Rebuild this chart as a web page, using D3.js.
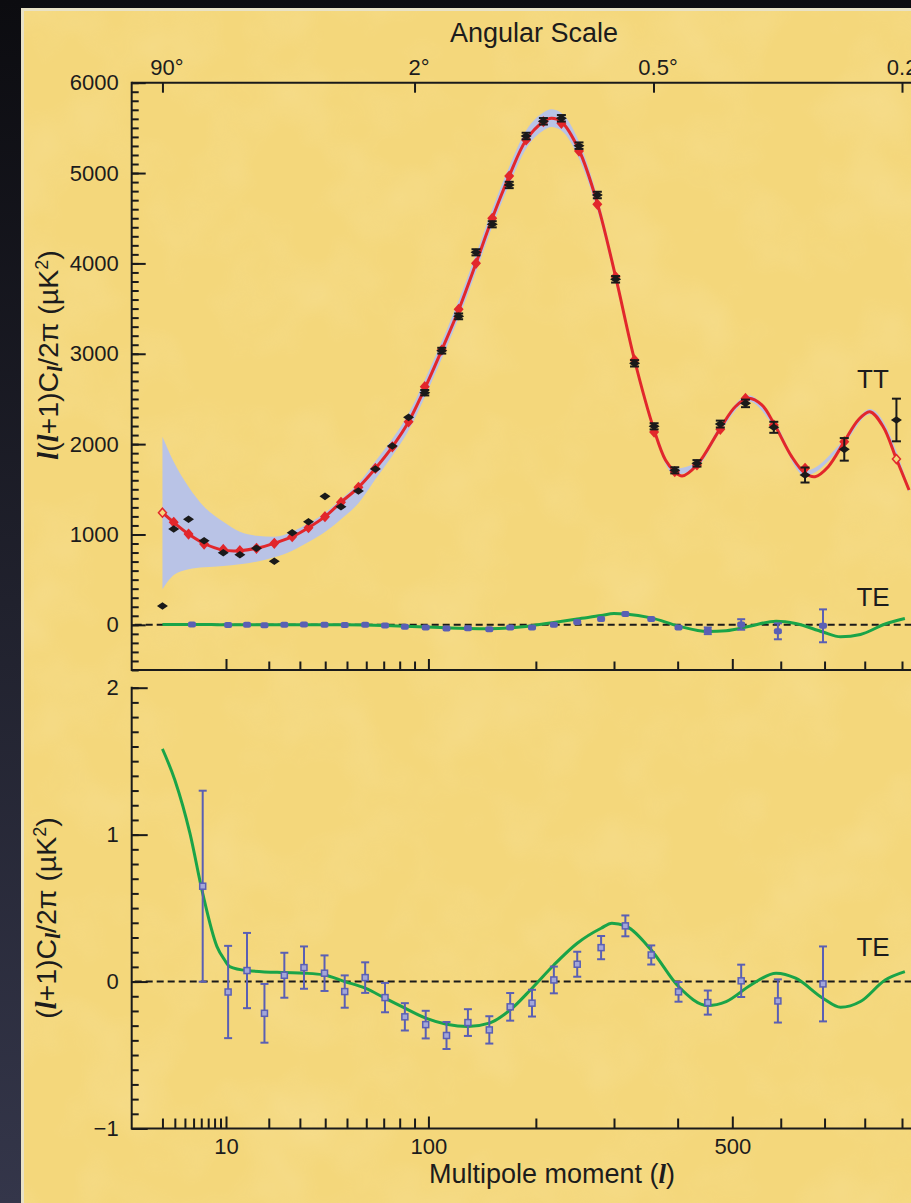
<!DOCTYPE html>
<html>
<head>
<meta charset="utf-8">
<script src="https://cdn.jsdelivr.net/npm/d3@7/dist/d3.min.js"></script>
<style>
  body { margin: 0; background: #15151b; overflow: hidden; }
  svg { display: block; }
  text { font-family: "Liberation Sans", Arial, Helvetica, sans-serif; fill: #1c1c1c; }
</style>
</head>
<body>
<script>
// ---- data ----

// TT: binned multipoles, measured band power, error (uK^2)
var ttL   = [2, 2.9, 4.4, 6.4, 9.5, 12.8, 16.7, 21.6, 27.3, 33.2, 39.9, 47.1, 55.8, 65.1, 75.3, 85.9, 97.3,
             110.2, 124, 139.2, 154.4, 171.3, 189.2, 208.6, 230, 252.2, 276.6, 302.3, 330.4, 361, 395.1,
             433.8, 476.9, 526.2, 585, 654.3, 748.1, 884.6];
var ttVal = [208, 1060, 1168, 931, 798, 776, 847, 703, 1019, 1141, 1422, 1307, 1481, 1724, 1979, 2296, 2569,
             3034, 3414, 4123, 4433, 4868, 5410, 5573, 5606, 5303, 4757, 3824, 2894, 2197, 1710,
             1787, 2222, 2451, 2186, 1658, 1942, 2267];
var ttErr = [0, 0, 0, 0, 0, 0, 0, 0, 0, 0, 0, 0, 0, 0, 0, 0, 30,
             32, 32, 34, 34, 35, 36, 36, 36, 36, 36, 36, 35, 34, 34,
             36, 38, 42, 61, 83, 125, 236];
// model value at the same bins (red diamonds)
var ttBin = [1241, 1134, 1005, 894, 835, 820, 847, 902, 975, 1075, 1197, 1356, 1522, 1731, 1970, 2247, 2635,
             3041, 3492, 4001, 4499, 4967, 5366, 5568, 5550, 5244, 4654, 3853, 2931, 2134, 1695,
             1769, 2164, 2505, 2211, 1732, 2027, 1835];

// TT best fit curve
var fitL  = [2, 2.9, 4.4, 6.4, 9.5, 12.8, 16.7, 21.6, 27.3, 33.2, 39.9, 47.1, 55.8, 65.1, 75.3, 85.9, 97.3,
             110.2, 124, 139.2, 154.4, 171.3, 189.2, 208.6, 218, 230, 252.2, 276.6, 302.3, 330.4, 361,
             379.5, 395.1, 407.6, 433.8, 476.9, 505.8, 532.3, 559.6, 585, 624.2, 654.3, 677.5, 708.9,
             748.1, 783.3, 813.3, 848.6, 884.6, 919.7];
var fitTT = [1241, 1134, 1005, 900, 827, 820, 847, 902, 975, 1075, 1197, 1356, 1522, 1731, 1970, 2247, 2616,
             3041, 3484, 4001, 4499, 4967, 5366, 5568, 5606, 5568, 5255, 4665, 3853, 2931, 2156,
             1824, 1695, 1647, 1769, 2175, 2414, 2507, 2433, 2230, 1861, 1677, 1639, 1750,
             2027, 2267, 2359, 2193, 1835, 1492];

// cosmic variance band round the fit
var bandL  = [2, 2.9, 4.4, 6.4, 9.5, 12.8, 16.7, 21.6, 27.3, 33.2, 39.9, 47.1, 55.8, 65.1, 75.3, 85.9, 97.3,
              110.2, 124, 139.2, 154.4, 171.3, 189.2, 208.6, 218, 230, 252.2, 276.6, 302.3, 330.4, 361,
              395.1, 433.8, 476.9, 532.3, 585, 654.3, 748.1, 813.3, 919.7];
var bandLo = [393, 551, 614, 636, 651, 670, 699, 747, 820, 916, 1027, 1168, 1345, 1610, 1870, 2150, 2520,
              2945, 3395, 3905, 4405, 4870, 5270, 5470, 5510, 5470, 5160, 4590, 3800, 2890, 2120,
              1660, 1740, 2140, 2475, 2200, 1650, 2000, 2330, 1465];
var bandHi = [2082, 1805, 1529, 1307, 1141, 1030, 986, 975, 1030, 1123, 1241, 1389, 1566, 1810, 2060, 2340, 2710,
              3135, 3590, 4100, 4600, 5070, 5470, 5670, 5705, 5665, 5350, 4740, 3910, 2975, 2195,
              1730, 1800, 2210, 2540, 2260, 1705, 2055, 2390, 1520];

// TE in the upper panel, l(l+1)C/2pi
var teTopL   = [4.8, 10.4, 14.4, 18.8, 24.7, 31.5, 39.7, 48.9, 59.4, 70.8, 83.4, 98, 114, 132, 151.6, 172.3,
                195.7, 220.9, 249.9, 281.8, 316.6, 356.4, 401.5, 453.5, 517.5, 593.8, 696.3];
var teTopVal = [3, -1, 1, -4, 1, 3, 2, -3, 2, -8, -20, -29, -42, -37, -50, -30, -29, 2, 30, 65, 120, 65,
                -30, -66, 4, -72, -11];
var teTopErr = [3, 3, 4, 4, 4, 5, 5, 5, 6, 7, 8, 9, 11, 12, 14, 16, 18, 20, 21, 22, 23, 23, 27, 37, 58, 88, 182];
var teTopFitL = [2, 3, 6.2, 8.4, 10.7, 14.4, 24.7, 31.5, 39.7, 48.9, 59.4, 70.8, 83.4, 98, 114, 132, 151.6,
                 172.3, 195.7, 220.9, 249.9, 281.8, 300, 316.6, 356.4, 401.5, 453.5, 488, 537, 590, 633,
                 696, 739, 789, 854, 908];
var teTopFit  = [3, 4, 4, 2, 1, 1, 1.5, 1.8, 1.8, 0, -3, -8, -15, -24, -33, -40, -43,
                 -33, -9, 25, 65, 102, 125, 120, 77, -14, -74, -66, -12, 40, 15,
                 -79, -133, -107, 9, 70];

// TE in the lower panel, (l+1)C/2pi
var teL   = [6.2, 10.4, 14.4, 18.8, 24.7, 31.5, 39.7, 48.9, 59.4, 70.8, 83.4, 98, 114, 132, 151.6, 172.3,
             195.7, 220.9, 249.9, 281.8, 316.6, 356.4, 401.5, 453.5, 517.5, 593.8, 696.3];
var teVal = [0.649, -0.071, 0.075, -0.216, 0.043, 0.095, 0.057, -0.068, 0.027, -0.109, -0.240, -0.293,
             -0.367, -0.279, -0.329, -0.172, -0.147, 0.011, 0.118, 0.231, 0.379, 0.181, -0.070, -0.143,
             0.005, -0.132, -0.016];
var teErr = [0.65, 0.314, 0.256, 0.2, 0.153, 0.144, 0.121, 0.11, 0.104, 0.1, 0.093, 0.094, 0.092, 0.091,
             0.093, 0.094, 0.091, 0.091, 0.085, 0.079, 0.071, 0.065, 0.067, 0.082, 0.11, 0.147, 0.255];
var teFitL = [2, 3, 4.56, 6.2, 8.4, 9.74, 10.7, 14.4, 24.7, 31.5, 39.7, 48.9, 59.4, 70.8, 83.4, 98, 114,
              132, 151.6, 172.3, 195.7, 220.9, 249.9, 281.8, 297, 316.6, 356.4, 401.5, 453.5, 488, 537,
              590, 633, 696, 739, 789, 854, 908];
var teFit  = [1.583, 1.372, 1.01, 0.60, 0.238, 0.147, 0.102, 0.075, 0.061, 0.057, 0.045, 0.0, -0.045,
              -0.113, -0.181, -0.249, -0.29, -0.306, -0.283, -0.193, -0.045, 0.113, 0.261, 0.363, 0.397,
              0.379, 0.215, -0.034, -0.163, -0.136, -0.023, 0.057, 0.023, -0.113, -0.175, -0.136, 0.011, 0.068];

// axis ticks
var ttMinor = d3.range(-500, 6001, 100);
var ttMajor = [0, 1000, 2000, 3000, 4000, 5000, 6000];
var teMinor = d3.range(-10, 21, 1).map(function(d) { return d / 10; });
var teMajor = [-1, 0, 1, 2];
var lLow    = [2, 3, 4, 5, 6, 7, 8, 9];
var lMinor  = [20, 30, 40, 50, 60, 70, 80, 90, 200, 300, 400, 600, 700, 800, 900];
var lMajor  = [10, 100, 500];
var angL      = [2, 90, 360, 900];
var angLabels = ["90°", "2°", "0.5°", "0.2°"];

// ---- layout ----
var W = 911, H = 1203;
var left = 131.7, right = 940;

var svg = d3.select("body").append("svg")
    .attr("width", W)
    .attr("height", H);

var defs = svg.append("defs");
var fg = defs.append("linearGradient").attr("id", "frameGrad")
    .attr("x1", 0).attr("y1", 0).attr("x2", 0).attr("y2", 1);
fg.append("stop").attr("offset", "0%").attr("stop-color", "#0c0c10");
fg.append("stop").attr("offset", "100%").attr("stop-color", "#34364a");

var grain = defs.append("filter").attr("id", "grain")
    .attr("x", 0).attr("y", 0).attr("width", "100%").attr("height", "100%");
grain.append("feTurbulence").attr("type", "fractalNoise")
    .attr("baseFrequency", "0.012").attr("numOctaves", 3).attr("seed", 7);
grain.append("feColorMatrix").attr("type", "matrix")
    .attr("values", "0 0 0 0 1  0 0 0 0 0.93  0 0 0 0 0.7  0.9 0 0 0 -0.38");

// dark surround, thin light edge, then the yellow card
svg.append("rect").attr("width", W).attr("height", H).attr("fill", "url(#frameGrad)");
svg.append("rect").attr("x", 21).attr("y", 8).attr("width", W).attr("height", H).attr("fill", "#e9e2c6");
svg.append("rect").attr("x", 24).attr("y", 11).attr("width", W).attr("height", H).attr("fill", "#f4d77b");
svg.append("rect").attr("x", 24).attr("y", 11).attr("width", W).attr("height", H)
    .attr("filter", "url(#grain)").attr("opacity", 0.35);

// scales: the x axis is l^0.4
var x = d3.scalePow().exponent(0.4)
    .domain([10, 900])
    .range([226, 902]);

var yTT = d3.scaleLinear()
    .domain([-500, 6000])
    .range([670, 82.7]);

var yTE = d3.scaleLinear()
    .domain([-1, 2])
    .range([1128.5, 687.7]);

function styleAxis(g, size) {
  g.select(".domain").remove();
  g.selectAll("line").attr("stroke", "#1a1a1a").attr("stroke-width", 2);
  g.attr("font-size", size || 22);
}

// ---- upper panel ----

// cosmic variance band
var bandData = bandL.map(function(l, i) { return {l: l, lo: bandLo[i], hi: bandHi[i]}; });
svg.append("path")
    .datum(bandData)
    .attr("fill", "#b9c3e6")
    .attr("d", d3.area()
      .x(function(d) { return x(d.l); })
      .y0(function(d) { return yTT(d.lo); })
      .y1(function(d) { return yTT(d.hi); })
      .curve(d3.curveMonotoneX));

// red fit
var fitData = fitL.map(function(l, i) { return {l: l, v: fitTT[i]}; });
svg.append("path")
    .datum(fitData)
    .attr("fill", "none")
    .attr("stroke", "#e2272b")
    .attr("stroke-width", 3)
    .attr("d", d3.line()
      .x(function(d) { return x(d.l); })
      .y(function(d) { return yTT(d.v); })
      .curve(d3.curveCatmullRom.alpha(0.5)));

// red binned model diamonds
svg.append("g").selectAll("path")
    .data(ttL)
    .enter()
    .append("path")
      .attr("transform", function(l, i) { return "translate(" + x(l) + "," + yTT(ttBin[i]) + ")"; })
      .attr("d", "M0,-4.5L4,0L0,4.5L-4,0Z")
      .attr("fill", function(l, i) { return (i === 0 || i === ttL.length - 1) ? "#f4d77b" : "#e2272b"; })
      .attr("stroke", "#e2272b")
      .attr("stroke-width", 1.5);

// black measured points with error bars
var tt = svg.append("g").selectAll("g")
    .data(ttL)
    .enter()
    .append("g")
      .attr("transform", function(l) { return "translate(" + x(l) + ",0)"; });

tt.each(function(l, i) {
  if (ttErr[i] <= 0) return;
  var g = d3.select(this);
  var top = yTT(ttVal[i] + ttErr[i]), bot = yTT(ttVal[i] - ttErr[i]);
  g.append("line").attr("y1", top).attr("y2", bot);
  g.append("line").attr("x1", -4.5).attr("x2", 4.5).attr("y1", top).attr("y2", top);
  g.append("line").attr("x1", -4.5).attr("x2", 4.5).attr("y1", bot).attr("y2", bot);
  g.selectAll("line").attr("stroke", "#1a1a1a").attr("stroke-width", 2);
});

tt.append("path")
    .attr("transform", function(l, i) { return "translate(0," + yTT(ttVal[i]) + ")"; })
    .attr("d", "M0,-3.8L5.5,0L0,3.8L-5.5,0Z")
    .attr("fill", "#1a1a1a");

// zero line
svg.append("line")
    .attr("x1", left + 3).attr("x2", right)
    .attr("y1", yTT(0)).attr("y2", yTT(0))
    .attr("stroke", "#1a1a1a").attr("stroke-width", 2)
    .attr("stroke-dasharray", "7,4");

// green TE fit (upper)
var teTopFitData = teTopFitL.map(function(l, i) { return {l: l, v: teTopFit[i]}; });
svg.append("path")
    .datum(teTopFitData)
    .attr("fill", "none")
    .attr("stroke", "#1aa448")
    .attr("stroke-width", 3)
    .attr("d", d3.line()
      .x(function(d) { return x(d.l); })
      .y(function(d) { return yTT(d.v); })
      .curve(d3.curveMonotoneX));

// TE points (upper)
var teTop = svg.append("g").selectAll("g")
    .data(teTopL)
    .enter()
    .append("g")
      .attr("transform", function(l) { return "translate(" + x(l) + ",0)"; });

teTop.each(function(l, i) {
  var g = d3.select(this);
  var top = yTT(teTopVal[i] + teTopErr[i]), bot = yTT(teTopVal[i] - teTopErr[i]);
  if (bot - top > 6) {
    g.append("line").attr("y1", top).attr("y2", bot);
    g.append("line").attr("x1", -4).attr("x2", 4).attr("y1", top).attr("y2", top);
    g.append("line").attr("x1", -4).attr("x2", 4).attr("y1", bot).attr("y2", bot);
    g.selectAll("line").attr("stroke", "#5a5fb4").attr("stroke-width", 2);
  }
  g.append("rect")
    .attr("x", -4).attr("y", yTT(teTopVal[i]) - 3)
    .attr("width", 8).attr("height", 6).attr("rx", 2)
    .attr("fill", "#5a5fb4");
});

// upper frame
svg.append("line").attr("x1", left).attr("x2", left).attr("y1", yTT.range()[1] - 1).attr("y2", yTT.range()[0] + 1);
svg.append("line").attr("x1", left).attr("x2", right).attr("y1", yTT.range()[1]).attr("y2", yTT.range()[1]);
svg.append("line").attr("x1", left).attr("x2", right).attr("y1", yTT.range()[0]).attr("y2", yTT.range()[0]);

// upper y axis
svg.append("g").attr("transform", "translate(" + left + ",0)")
    .call(d3.axisRight(yTT).tickValues(ttMinor).tickSize(7).tickSizeOuter(0).tickFormat(""))
    .call(styleAxis);
svg.append("g").attr("transform", "translate(" + left + ",0)")
    .call(d3.axisRight(yTT).tickValues(ttMajor).tickSize(14).tickSizeOuter(0).tickFormat(""))
    .call(styleAxis);
svg.append("g").attr("transform", "translate(" + left + ",0)")
    .call(d3.axisLeft(yTT).tickValues(ttMajor).tickSize(0).tickPadding(13).tickSizeOuter(0)
      .tickFormat(d3.format("d")))
    .call(styleAxis);

// upper x ticks (bottom edge, pointing up)
svg.append("g").attr("transform", "translate(0," + yTT.range()[0] + ")")
    .call(d3.axisTop(x).tickValues(lMinor).tickSize(8.5).tickFormat(""))
    .call(styleAxis);
svg.append("g").attr("transform", "translate(0," + yTT.range()[0] + ")")
    .call(d3.axisTop(x).tickValues(lMajor).tickSize(11).tickFormat(""))
    .call(styleAxis);

// angular scale on top
svg.append("g").attr("transform", "translate(0," + yTT.range()[1] + ")")
    .call(d3.axisBottom(x).tickValues(angL).tickSize(10).tickFormat(""))
    .call(styleAxis);
var angAxis = svg.append("g").attr("transform", "translate(0," + yTT.range()[1] + ")")
    .call(d3.axisTop(x).tickValues(angL).tickSize(0).tickPadding(8)
      .tickFormat(function(d, i) { return angLabels[i]; }))
    .call(styleAxis);
angAxis.selectAll("text").attr("dx", 4);

svg.append("text")
    .attr("x", 534).attr("y", 42)
    .attr("text-anchor", "middle")
    .attr("font-size", 27)
    .text("Angular Scale");

// ---- lower panel ----

svg.append("line")
    .attr("x1", left + 3).attr("x2", right)
    .attr("y1", yTE(0)).attr("y2", yTE(0))
    .attr("stroke", "#1a1a1a").attr("stroke-width", 2)
    .attr("stroke-dasharray", "7,4");

var teFitData = teFitL.map(function(l, i) { return {l: l, v: teFit[i]}; });
svg.append("path")
    .datum(teFitData)
    .attr("fill", "none")
    .attr("stroke", "#1aa448")
    .attr("stroke-width", 3)
    .attr("d", d3.line()
      .x(function(d) { return x(d.l); })
      .y(function(d) { return yTE(d.v); })
      .curve(d3.curveMonotoneX));

var te = svg.append("g").selectAll("g")
    .data(teL)
    .enter()
    .append("g")
      .attr("transform", function(l) { return "translate(" + x(l) + ",0)"; });

te.each(function(l, i) {
  var g = d3.select(this);
  var top = yTE(teVal[i] + teErr[i]), bot = yTE(teVal[i] - teErr[i]);
  g.append("line").attr("y1", top).attr("y2", bot);
  g.append("line").attr("x1", -4).attr("x2", 4).attr("y1", top).attr("y2", top);
  g.append("line").attr("x1", -4).attr("x2", 4).attr("y1", bot).attr("y2", bot);
  g.selectAll("line").attr("stroke", "#5a5fb4").attr("stroke-width", 2);
  g.append("rect")
    .attr("x", -3).attr("y", yTE(teVal[i]) - 3)
    .attr("width", 6).attr("height", 6)
    .attr("fill", "#a3a6d8").attr("stroke", "#5a5fb4").attr("stroke-width", 1.5);
});

// lower frame
svg.append("line").attr("x1", left).attr("x2", left).attr("y1", yTE.range()[1] - 1).attr("y2", yTE.range()[0] + 1);
svg.append("line").attr("x1", left).attr("x2", right).attr("y1", yTE.range()[0]).attr("y2", yTE.range()[0]);

svg.append("g").attr("transform", "translate(" + left + ",0)")
    .call(d3.axisRight(yTE).tickValues(teMinor).tickSize(7).tickSizeOuter(0).tickFormat(""))
    .call(styleAxis);
svg.append("g").attr("transform", "translate(" + left + ",0)")
    .call(d3.axisRight(yTE).tickValues(teMajor).tickSize(16).tickSizeOuter(0).tickFormat(""))
    .call(styleAxis);
svg.append("g").attr("transform", "translate(" + left + ",0)")
    .call(d3.axisLeft(yTE).tickValues(teMajor).tickSize(0).tickPadding(13).tickSizeOuter(0)
      .tickFormat(d3.format("d")))
    .call(styleAxis);

// multipole axis
svg.append("g").attr("transform", "translate(0," + yTE.range()[0] + ")")
    .call(d3.axisTop(x).tickValues(lLow.concat(lMinor)).tickSize(10).tickFormat(""))
    .call(styleAxis);
svg.append("g").attr("transform", "translate(0," + yTE.range()[0] + ")")
    .call(d3.axisTop(x).tickValues(lMajor).tickSize(12).tickFormat(""))
    .call(styleAxis);
svg.append("g").attr("transform", "translate(0," + yTE.range()[0] + ")")
    .call(d3.axisBottom(x).tickValues(lMajor).tickSize(0).tickPadding(10))
    .call(styleAxis);

svg.selectAll("line:not([stroke])").attr("stroke", "#1a1a1a").attr("stroke-width", 2);

// ---- labels ----
var xl = svg.append("text")
    .attr("x", 552).attr("y", 1183)
    .attr("text-anchor", "middle")
    .attr("font-size", 27);
xl.append("tspan").text("Multipole moment (");
xl.append("tspan").attr("font-family", "Liberation Serif").attr("font-style", "italic").attr("font-weight", "bold").text("l");
xl.append("tspan").text(")");

function yLabel(cx, cy, lead) {
  var t = svg.append("text")
      .attr("transform", "translate(" + cx + "," + cy + ") rotate(-90)")
      .attr("text-anchor", "middle")
      .attr("font-size", 28.5);
  if (lead) {
    t.append("tspan").attr("font-family", "Liberation Serif").attr("font-style", "italic").attr("font-weight", "bold").text("l");
  }
  t.append("tspan").text("(");
  t.append("tspan").attr("font-family", "Liberation Serif").attr("font-style", "italic").attr("font-weight", "bold").text("l");
  t.append("tspan").text("+1)C");
  t.append("tspan").attr("font-family", "Liberation Serif").attr("font-style", "italic").attr("font-weight", "bold")
      .attr("font-size", 21).attr("dy", 4).text("l");
  t.append("tspan").attr("dy", -4).text("/2π (µK");
  t.append("tspan").attr("font-size", 18).attr("dy", -10).text("2");
  t.append("tspan").attr("dy", 10).text(")");
}
yLabel(58, 355, true);
yLabel(56, 918, false);

svg.append("text").attr("x", 873).attr("y", 388).attr("text-anchor", "middle").attr("font-size", 26).text("TT");
svg.append("text").attr("x", 873).attr("y", 606).attr("text-anchor", "middle").attr("font-size", 26).text("TE");
svg.append("text").attr("x", 873).attr("y", 956).attr("text-anchor", "middle").attr("font-size", 26).text("TE");
</script>
</body>
</html>
